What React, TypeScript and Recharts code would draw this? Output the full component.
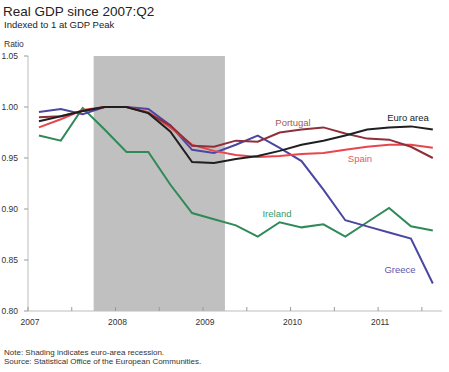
import { LineChart, Line, XAxis, YAxis, ReferenceArea } from 'recharts';

// quarterly observations, 2007:Q1 - 2011:Q3
const quarters = [
  '2007Q1', '2007Q2', '2007Q3', '2007Q4',
  '2008Q1', '2008Q2', '2008Q3', '2008Q4',
  '2009Q1', '2009Q2', '2009Q3', '2009Q4',
  '2010Q1', '2010Q2', '2010Q3', '2010Q4',
  '2011Q1', '2011Q2', '2011Q3',
];

const euroArea = [0.986, 0.991, 0.996, 1.0, 1.0, 0.994, 0.976, 0.946, 0.945, 0.949, 0.952, 0.957, 0.963, 0.967, 0.972, 0.978, 0.98, 0.981, 0.978];
const portugal = [0.99, 0.991, 0.996, 1.0, 1.0, 0.994, 0.982, 0.962, 0.961, 0.967, 0.966, 0.975, 0.978, 0.98, 0.974, 0.969, 0.968, 0.961, 0.95];
const spain = [0.98, 0.988, 0.997, 1.0, 1.0, 0.995, 0.98, 0.963, 0.957, 0.953, 0.951, 0.952, 0.954, 0.955, 0.958, 0.961, 0.963, 0.963, 0.96];
const greece = [0.995, 0.998, 0.993, 1.0, 1.0, 0.998, 0.982, 0.958, 0.955, 0.963, 0.972, 0.96, 0.947, 0.919, 0.889, 0.883, 0.877, 0.871, 0.827];
const ireland = [0.972, 0.967, 0.999, 0.978, 0.956, 0.956, 0.924, 0.896, 0.89, 0.884, 0.873, 0.887, 0.882, 0.885, 0.873, 0.887, 0.901, 0.883, 0.879];

const yTicks = [0.8, 0.85, 0.9, 0.95, 1.0, 1.05];
const xTicks = [2007, 2007.5, 2008, 2008.5, 2009, 2009.5, 2010, 2010.5, 2011, 2011.5];
const recession = [2007.75, 2009.25];

const toYear = (q: string) => Number(q.slice(0, 4)) + (Number(q.slice(5)) - 0.5) / 4;

const data = quarters.map((q, i) => ({
  t: toYear(q),
  euro: euroArea[i],
  portugal: portugal[i],
  spain: spain[i],
  greece: greece[i],
  ireland: ireland[i],
}));

const FONT = '"Liberation Sans", Arial, sans-serif';
const AXIS = '#bdbdbd';

const YearTick = (props: any) => {
  const { x, y, payload } = props;
  const isYear = Number.isInteger(payload.value);
  return (
    <g>
      <line x1={x} x2={x} y1={y - 8} y2={y - 12} stroke="#999" />
      {isYear && (
        <text x={x + 2} y={y} dy="0.71em" textAnchor="middle" fontSize={8.5} fill="#333" fontFamily={FONT}>
          {payload.value}
        </text>
      )}
    </g>
  );
};

const NoTick = () => <g />;

const label = (text: string, left: number, top: number, color: string) => (
  <div
    style={{
      position: 'absolute', left, top, transform: 'translate(-50%, -50%)',
      fontSize: 9.5, color, whiteSpace: 'nowrap',
    }}
  >
    {text}
  </div>
);

export default function App() {
  return (
    <div style={{ position: 'absolute', left: 0, top: 0, width: 449, height: 372, background: '#fff', fontFamily: FONT }}>
      <div style={{ position: 'absolute', left: 3, top: 4, fontSize: 13.5, color: '#222' }}>Real GDP since 2007:Q2</div>
      <div style={{ position: 'absolute', left: 4, top: 19, fontSize: 9.5, color: '#222' }}>Indexed to 1 at GDP Peak</div>
      <div style={{ position: 'absolute', left: 4, top: 39, fontSize: 8.5, color: '#333' }}>Ratio</div>

      <LineChart width={449} height={335} data={data} margin={{ top: 56, right: 7, bottom: 4, left: 0 }}>
        <XAxis
          dataKey="t"
          type="number"
          domain={[2007, 2011.73]}
          ticks={xTicks}
          height={20}
          tick={YearTick}
          tickSize={6}
          tickMargin={2}
          tickLine={{ stroke: 'transparent' }}
          axisLine={{ stroke: AXIS }}
          interval={0}
        />
        <XAxis
          xAxisId="top"
          orientation="top"
          dataKey="t"
          type="number"
          domain={[2007, 2011.73]}
          height={0}
          tick={false}
          tickLine={false}
          axisLine={{ stroke: AXIS }}
        />
        <YAxis
          type="number"
          domain={[0.8, 1.05]}
          ticks={yTicks}
          width={28}
          tickSize={4}
          tickMargin={6}
          tickLine={{ stroke: '#999' }}
          axisLine={{ stroke: AXIS }}
          tick={{ fontSize: 8.5, fill: '#333', fontFamily: FONT }}
          tickFormatter={(v: number) => v.toFixed(2)}
          interval={0}
        />
        <YAxis
          yAxisId="r"
          orientation="right"
          type="number"
          domain={[0.8, 1.05]}
          ticks={yTicks}
          width={0}
          mirror
          tickSize={4}
          tick={NoTick}
          tickLine={{ stroke: '#999' }}
          axisLine={{ stroke: AXIS }}
          interval={0}
        />
        <ReferenceArea x1={recession[0]} x2={recession[1]} fill="#c0c0c0" fillOpacity={1} stroke="none" />
        <Line type="linear" dataKey="ireland" stroke="#2f8a57" strokeWidth={2} dot={false} isAnimationActive={false} />
        <Line type="linear" dataKey="greece" stroke="#4a47a3" strokeWidth={2} dot={false} isAnimationActive={false} />
        <Line type="linear" dataKey="spain" stroke="#e8454c" strokeWidth={2} dot={false} isAnimationActive={false} />
        <Line type="linear" dataKey="portugal" stroke="#8e2f3a" strokeWidth={2} dot={false} isAnimationActive={false} />
        <Line type="linear" dataKey="euro" stroke="#1f1f1f" strokeWidth={2} dot={false} isAnimationActive={false} />
      </LineChart>

      {label('Portugal', 293, 122, '#a0604f')}
      {label('Euro area', 408, 117, '#222')}
      {label('Spain', 360, 158, '#e25a5f')}
      {label('Ireland', 277, 213, '#3a9a68')}
      {label('Greece', 400, 269, '#5a58a8')}

      <div style={{ position: 'absolute', left: 4, top: 348, fontSize: 8, color: '#333', lineHeight: '9px' }}>
        Note: Shading indicates euro-area recession.
        <br />
        Source: Statistical Office of the European Communities.
      </div>
    </div>
  );
}
